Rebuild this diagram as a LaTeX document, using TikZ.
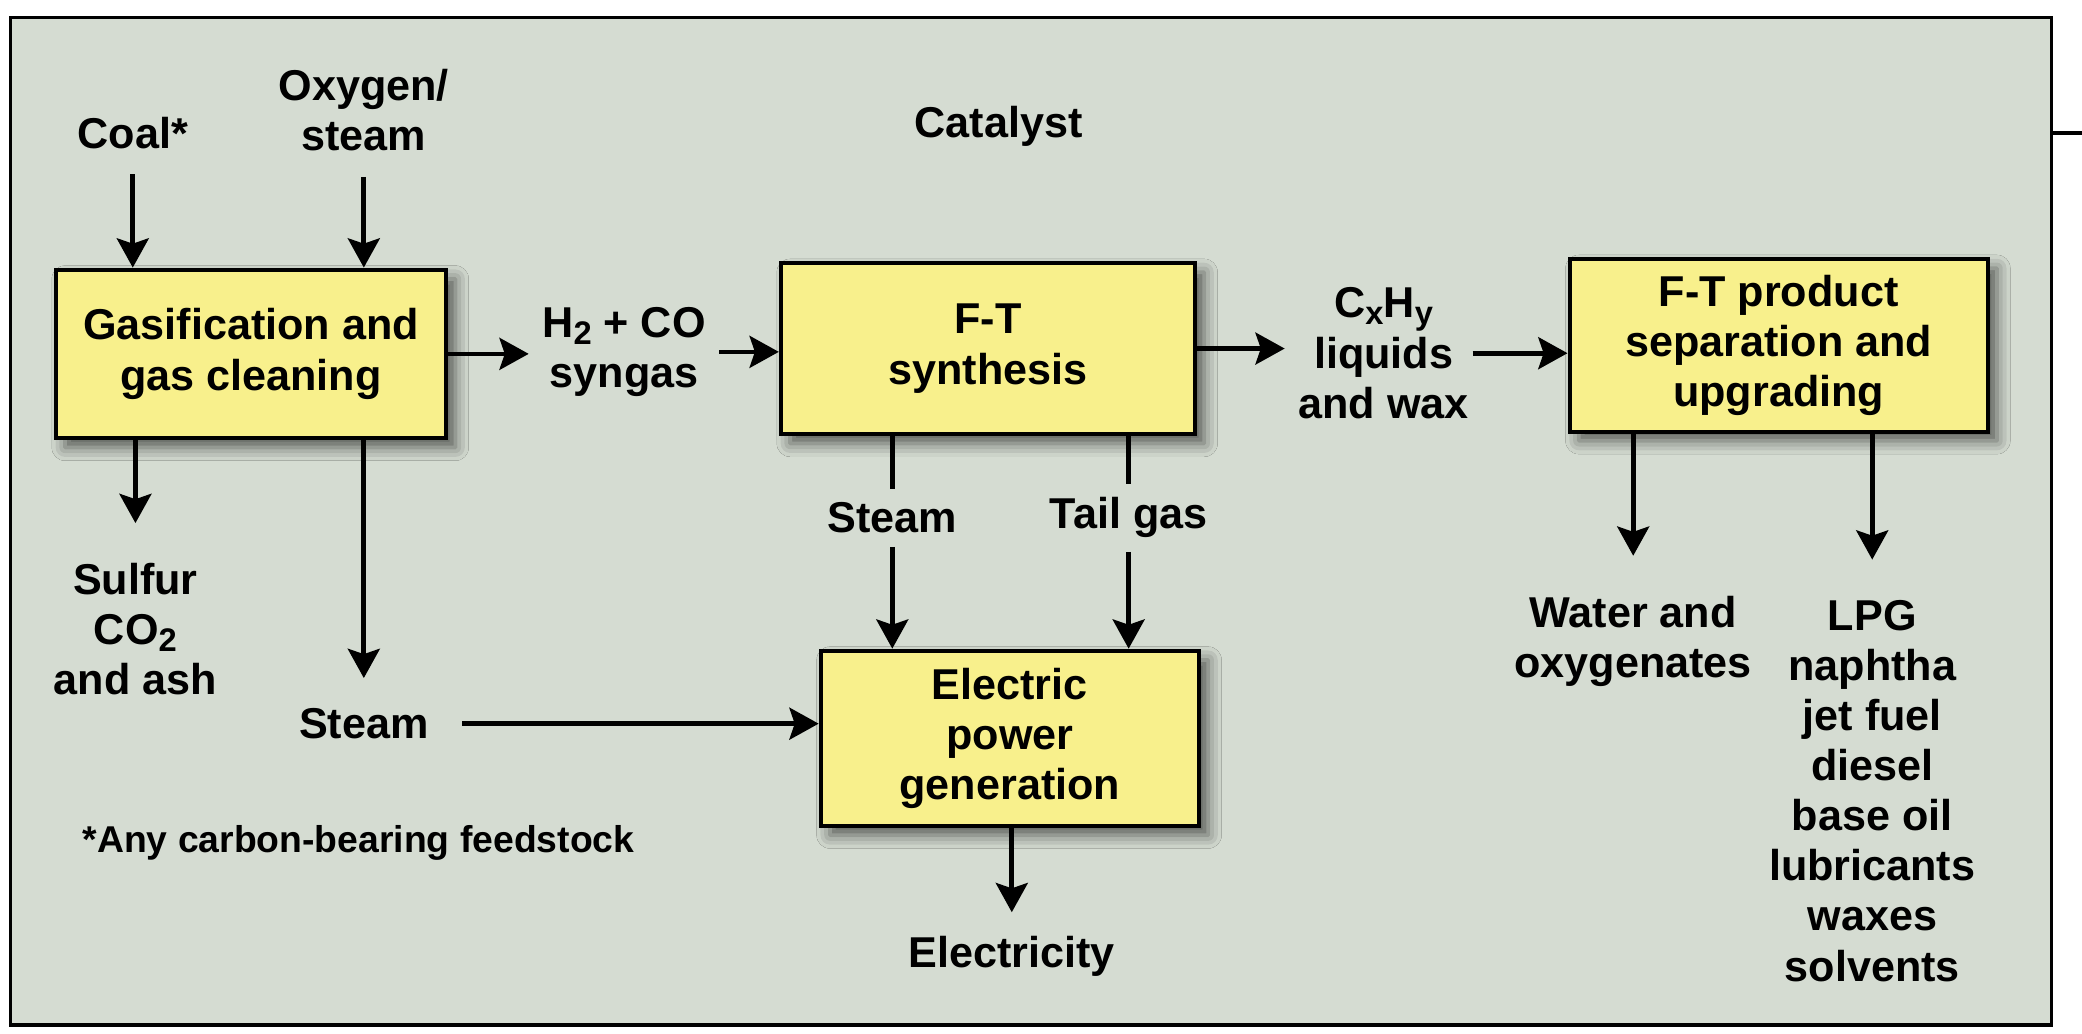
\documentclass[tikz,border=0pt]{standalone}
\usepackage{fontspec}
\setmainfont{Liberation Sans}
\usetikzlibrary{arrows.meta,shadows.blur}
\definecolor{bgc}{RGB}{213,220,210}
\definecolor{boxc}{RGB}{248,240,140}
\newcommand\lowsub[1]{\raisebox{-0.3ex}{\fontsize{14}{14}\selectfont #1}}
\begin{document}
\begin{tikzpicture}[x=0.02cm,y=-0.02cm,
  lbl/.style={font=\bfseries\fontsize{18.5}{21.5}\selectfont, align=center, inner sep=0.2cm},
  box/.style={lbl, draw=black, line width=1.7pt, fill=boxc,
    blur shadow={shadow xshift=0.14cm, shadow yshift=-0.14cm, shadow blur radius=0.2cm, shadow opacity=60}},
  arr/.style={line width=2pt, -{Stealth[length=0.44cm,width=0.48cm,inset=0.08cm]}},
  ln/.style={line width=2pt}]
\useasboundingbox (0,0) rectangle (1568,778);
\fill[white] (0,0) rectangle (1568,778);
\draw[fill=bgc, line width=1.5pt] (8,13) rectangle (1545,772);
\draw[line width=1.5pt] (1545,100) -- (1568,100);

\node[box, minimum width=5.88cm, minimum height=2.54cm] (gas) at (189,266.5) {Gasification and\\gas cleaning};
\node[box, minimum width=6.24cm, minimum height=2.58cm] (ft) at (744,262.5) {F-T\\synthesis};
\node[box, minimum width=6.3cm, minimum height=2.6cm] (fp) at (1339.5,260) {F-T product\\separation and\\upgrading};
\node[box, minimum width=5.7cm, minimum height=2.64cm] (el) at (760.5,556) {Electric\\power\\generation};

\node[lbl] (coal) at (100,100) {Coal*};
\node[lbl] (oxy) at (274,83) {Oxygen/\\steam};
\node[lbl] (cat) at (752,95) {Catalyst};
\node[lbl] (syn) at (470,265) {H\lowsub{2} + CO\\syngas};
\node[lbl] (cx) at (1042,266) {C\lowsub{x}H\lowsub{y}\\liquids\\and wax};
\node[lbl] (sul) at (102,474) {Sulfur\\CO\lowsub{2}\\and ash};
\node[lbl] (stm1) at (274,545) {Steam};
\node[lbl] (stm2) at (672,390) {Steam};
\node[lbl] (tail) at (850,390) {Tail gas};
\node[lbl] (elec) at (762,720) {Electricity};
\node[lbl] (wat) at (1230,483) {Water and\\oxygenates};
\node[lbl] (prod) at (1410,595.5) {LPG\\naphtha\\jet fuel\\diesel\\base oil\\lubricants\\waxes\\solvents};
\node[lbl, font=\bfseries\fontsize{16}{19}\selectfont] (note) at (270,635) {*Any carbon-bearing feedstock};

\draw[arr, shorten <=0.18cm] (coal.south) -- (coal.south |- gas.north);
\draw[arr, shorten <=0.18cm] (oxy.south) -- (oxy.south |- gas.north);
\draw[arr] (gas.east) -- (gas.east -| syn.west);
\draw[arr] (syn.east) -- (syn.east -| ft.west);
\draw[arr] (ft.east) -- (ft.east -| cx.west);
\draw[arr, shorten <=-0.15cm] (cx.east) -- (cx.east -| fp.west);
\draw[arr, shorten >=0.4cm] (gas.south -| sul.north) -- (sul.north);
\draw[arr, shorten >=0.25cm] (gas.south -| stm1.north) -- (stm1.north);
\draw[arr, shorten <=0.3cm] (stm1.east) -- (stm1.east -| el.west);
\draw[ln] (ft.south -| stm2.north) -- (stm2.north);
\draw[arr] (stm2.south) -- (stm2.south |- el.north);
\draw[ln] (ft.south -| tail.north) -- (tail.north);
\draw[arr] (tail.south) -- (tail.south |- el.north);
\draw[arr, shorten >=0.15cm] (el.south -| elec.north) -- (elec.north);
\draw[arr, shorten >=0.4cm] (fp.south -| wat.north) -- (wat.north);
\draw[arr, shorten >=0.4cm] (fp.south -| prod.north) -- (prod.north);
\end{tikzpicture}
\end{document}
